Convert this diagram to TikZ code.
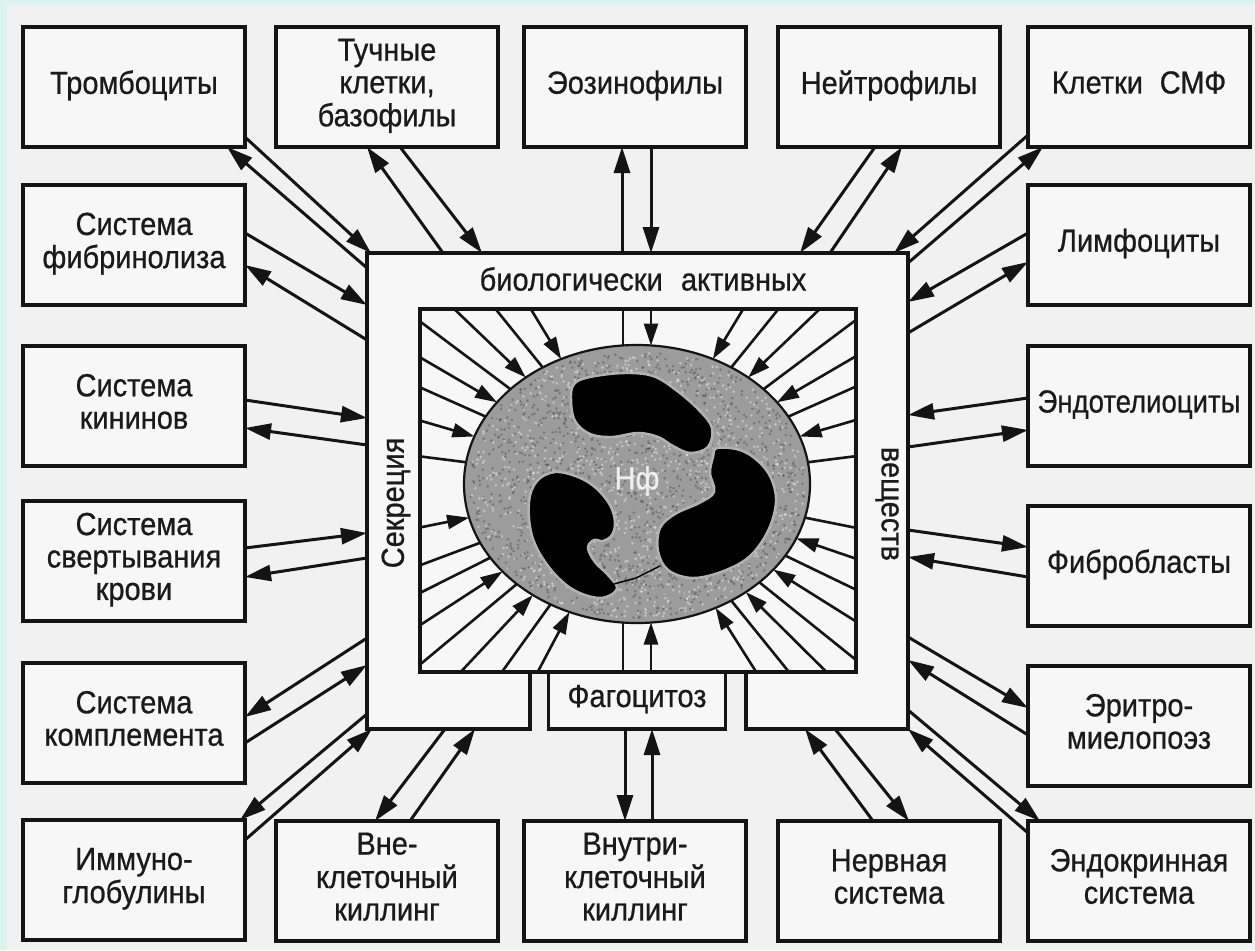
\documentclass[tikz,border=0pt]{standalone}
\usepackage{fontspec}
\setmainfont{Liberation Sans}
\newfontfamily\heavysans[BoldFont={Liberation Sans}, BoldFeatures={FakeBold=0.7}]{Liberation Sans}
\usetikzlibrary{arrows.meta,calc}
\definecolor{paper}{HTML}{F1F1F1}
\definecolor{rim}{HTML}{DDF3F0}
\definecolor{ink}{HTML}{141414}
\definecolor{txt}{HTML}{1A1A1A}
\definecolor{plasma}{HTML}{9C9C9C}
\newcommand{\boxtext}[1]{\scalebox{1}[1.1]{\begin{tabular}{@{}c@{}}#1\end{tabular}}}
\begin{document}
\begin{tikzpicture}[x=1pt,y=-1pt,
  cbox/.style={draw=ink, fill=white!45!paper, line width=3.4pt, minimum width=222pt,
    minimum height=120pt, inner sep=0pt, outer sep=0pt, text=txt,
    font=\heavysans\bfseries\fontsize{29}{29.5}\selectfont},
  conn/.style={draw=ink, line width=3pt, -{Triangle[length=26pt,width=16pt]}},
  ray/.style={draw=ink, line width=2.6pt},
  rayarr/.style={ray, -{Triangle[length=22pt,width=14pt]}},
  lbl/.style={text=txt, inner sep=0pt, font=\heavysans\bfseries\fontsize{29}{29.5}\selectfont},
]
% paper
\fill[paper] (0,0) rectangle (1255,950);
\fill[rim] (0,0) rectangle (7,950);
\fill[rim] (0,0) rectangle (1255,5);
\useasboundingbox (0,0) rectangle (1255,950);

% outer boxes
\node[cbox] (trom)   at (134,87)   {\boxtext{Тромбоциты}};
\node[cbox] (tuch)   at (387,87)   {\boxtext{Тучные\\клетки,\\базофилы}};
\node[cbox] (eos)    at (635,87)   {\boxtext{Эозинофилы}};
\node[cbox] (neut)   at (889,87)   {\boxtext{Нейтрофилы}};
\node[cbox] (smf)    at (1139,87)  {\boxtext{Клетки\hspace{0.3em} СМФ}};
\node[cbox] (fib)    at (134,245)  {\boxtext{Система\\фибринолиза}};
\node[cbox] (kin)    at (134,406)  {\boxtext{Система\\кининов}};
\node[cbox] (svert)  at (134,561)  {\boxtext{Система\\свертывания\\крови}};
\node[cbox] (kompl)  at (134,723)  {\boxtext{Система\\комплемента}};
\node[cbox] (immun)  at (134,880)  {\boxtext{Иммуно-\\глобулины}};
\node[cbox] (vne)    at (387,881)  {\boxtext{Вне-\\клеточный\\киллинг}};
\node[cbox] (vnutri) at (635,881)  {\boxtext{Внутри-\\клеточный\\киллинг}};
\node[cbox] (nerv)   at (889,881)  {\boxtext{Нервная\\система}};
\node[cbox] (endo)   at (1139,881) {\boxtext{Эндокринная\\система}};
\node[cbox] (limf)   at (1139,245) {\boxtext{Лимфоциты}};
\node[cbox] (endot)  at (1139,406) {\scalebox{0.95}[1]{\boxtext{Эндотелиоциты}}};
\node[cbox] (fibro)  at (1139,566) {\boxtext{Фибробласты}};
\node[cbox] (eritro) at (1139,726) {\boxtext{Эритро-\\миелопоэз}};

% secretion frame with a notch for the phagocytosis box
\node[minimum width=541pt, minimum height=476pt, inner sep=0pt, outer sep=0pt] (frame) at (637.5,491) {};
\filldraw[fill=white!45!paper, draw=ink, line width=3.4pt]
  (frame.north west) -- (frame.north east) -- (frame.south east) -- (746,729) -- (746,672)
  -- (530,672) -- (530,729) -- (frame.south west) -- cycle;
\draw[ink, line width=3.4pt] (420,309) rectangle (856,672);
\node[cbox, minimum width=177pt, minimum height=57pt] (phag) at (637,700.5) {\boxtext{Фагоцитоз}};

\node[lbl] (bio)  at (643,279) {\scalebox{1}[1.1]{биологически\hspace{0.35em} активных}};
\node[lbl, rotate=90]  (secr) at (396,503) {\scalebox{1}[1.1]{Секреция}};
\node[lbl, rotate=-90] (vesh) at (887,504) {\scalebox{1}[1.1]{веществ}};

% the neutrophil: grainy cytoplasm
\filldraw[fill=plasma, draw=ink, line width=2.2pt] (637,484) ellipse [x radius=173, y radius=139];
\pgfmathsetseed{42}
\foreach \i in {1,...,1500} {
  \pgfmathsetmacro\ang{360*rnd}
  \pgfmathsetmacro\rad{sqrt(rnd)}
  \fill[black!75, opacity=.4] ({637+168*\rad*cos(\ang)},{484+134*\rad*sin(\ang)}) circle (1.4);
}
\foreach \i in {1,...,1100} {
  \pgfmathsetmacro\ang{360*rnd}
  \pgfmathsetmacro\rad{sqrt(rnd)}
  \fill[white, opacity=.4] ({637+168*\rad*cos(\ang)},{484+134*\rad*sin(\ang)}) circle (1.4);
}
% nucleus lobes
\begin{scope}[fill=black, draw=black!30, line width=2.5pt]
\filldraw plot[smooth cycle, tension=0.6] coordinates {
  (571,400) (574,384) (590,377) (624,373) (653,376) (676,390) (699,410) (712,428)
  (708,447) (690,453) (673,446) (658,437) (638,433) (612,437) (590,434) (575,421)};
\filldraw plot[smooth cycle, tension=0.6] coordinates {
  (717,448) (740,450) (758,461) (771,478) (776,502) (768,531) (749,557) (721,572)
  (692,578) (668,570) (658,551) (660,528) (675,514) (699,503) (714,492) (710,473) (713,457)};
\filldraw plot[smooth cycle, tension=0.6] coordinates {
  (555,472) (578,477) (596,488) (610,505) (615,522) (612,535) (603,541) (594,540)
  (588,548) (595,562) (608,575) (617,589) (600,598) (572,589) (548,566) (532,536)
  (529,502) (537,481)};
\end{scope}
\draw[black, line width=1.5pt] (614,584) -- (636,578) -- (660,566);
\node[text=white!85!plasma, font=\heavysans\bfseries\fontsize{29}{29.5}\selectfont] (nf) at (637,481) {\scalebox{1}[1.1]{Нф}};

% rays between the inner square and the cell
\begin{scope}
\clip (420,309) rectangle (856,672);
\foreach \t in {123,137,151,171,205,212,226,240,57,43,29,9,346,329,315,303}
  \draw[ray] ({637+519*cos(\t)},{484-417*sin(\t)}) -- ({637+173*cos(\t)},{484-139*sin(\t)});
\foreach \t in {116,130,144,160,194,219,233,247,64,50,36,20,337,322,309,297}
  \draw[rayarr] ({637+519*cos(\t)},{484-417*sin(\t)}) -- ({637+173*cos(\t)},{484-139*sin(\t)});
\end{scope}
\draw[ray] (623,309) -- (623,345.5);
\draw[rayarr] (651,309) -- (651,345.5);
\draw[ray] (623,672) -- (623,622.5);
\draw[rayarr] (651,672) -- (651,622.5);

% connectors: left column
\draw[conn] ($(trom.south east)+(1,-9)$) -- ($(frame.north west)+(4,0)$);
\draw[conn] ($(frame.north west)+(0,15)$) -- ($(trom.south east)+(-18,0)$);
\draw[conn] ($(fib.east)+(0,-12)$) -- ($(frame.north west)+(0,52)$);
\draw[conn] ($(frame.north west)+(0,87)$) -- ($(fib.east)+(0,20)$);
\draw[conn] ($(kin.east)+(0,-6)$) -- ($(frame.north west)+(0,165)$);
\draw[conn] ($(frame.north west)+(0,192)$) -- ($(kin.east)+(0,22)$);
\draw[conn] ($(svert.east)+(0,-13)$) -- ($(frame.north west)+(0,280)$);
\draw[conn] ($(frame.north west)+(0,305)$) -- ($(svert.east)+(0,16)$);
\draw[conn] ($(frame.north west)+(0,385)$) -- ($(kompl.east)+(0,-6)$);
\draw[conn] ($(kompl.east)+(0,20)$) -- ($(frame.north west)+(0,412)$);
\draw[conn] ($(frame.north west)+(0,461)$) -- ($(immun.north east)+(-5,0)$);
\draw[conn] ($(immun.east)+(0,-40)$) -- ($(frame.south west)+(5,0)$);
% connectors: bottom row
\draw[conn] ($(frame.south west)+(78,0)$) -- ($(vne.north)+(-12,0)$);
\draw[conn] ($(vne.north)+(23,0)$) -- ($(frame.south west)+(108,0)$);
\draw[conn] ($(phag.south)+(-12,0)$) -- ($(vnutri.north)+(-10,0)$);
\draw[conn] ($(vnutri.north)+(17,0)$) -- ($(phag.south)+(15,0)$);
\draw[conn] ($(nerv.north)+(-16,0)$) -- ($(frame.south east)+(-103,0)$);
\draw[conn] ($(frame.south east)+(-73,0)$) -- ($(nerv.north)+(20,0)$);
\draw[conn] ($(endo.west)+(0,-48)$) -- (frame.south east);
\draw[conn] ($(frame.south east)+(0,-19)$) -- ($(endo.north west)+(12,0)$);
% connectors: right column
\draw[conn] ($(frame.south east)+(0,-92)$) -- ($(eritro.west)+(0,-18)$);
\draw[conn] ($(eritro.west)+(0,9)$) -- ($(frame.south east)+(0,-69)$);
\draw[conn] ($(frame.south east)+(0,-199)$) -- ($(fibro.west)+(0,-19)$);
\draw[conn] ($(fibro.west)+(0,11)$) -- ($(frame.south east)+(0,-172)$);
\draw[conn] ($(endot.west)+(0,-8)$) -- ($(frame.north east)+(0,162)$);
\draw[conn] ($(frame.north east)+(0,194)$) -- ($(endot.west)+(0,24)$);
\draw[conn] ($(limf.west)+(0,-12)$) -- ($(frame.north east)+(0,49)$);
\draw[conn] ($(frame.north east)+(0,80)$) -- ($(limf.west)+(0,17)$);
% connectors: top row
\draw[conn] ($(smf.south west)+(0,-12)$) -- ($(frame.north east)+(-14,0)$);
\draw[conn] ($(frame.north east)+(0,10)$) -- ($(smf.south west)+(15,0)$);
\draw[conn] ($(neut.south)+(-14,0)$) -- ($(frame.north east)+(-108,0)$);
\draw[conn] ($(frame.north east)+(-78,0)$) -- ($(neut.south)+(13,0)$);
\draw[conn] ($(frame.north)+(-15.5,0)$) -- ($(eos.south)+(-13,0)$);
\draw[conn] ($(eos.south)+(16,0)$) -- ($(frame.north)+(13.5,0)$);
\draw[conn] ($(frame.north west)+(76,0)$) -- ($(tuch.south)+(-20,0)$);
\draw[conn] ($(tuch.south)+(13,0)$) -- ($(frame.north west)+(115,0)$);
\end{tikzpicture}
\end{document}
